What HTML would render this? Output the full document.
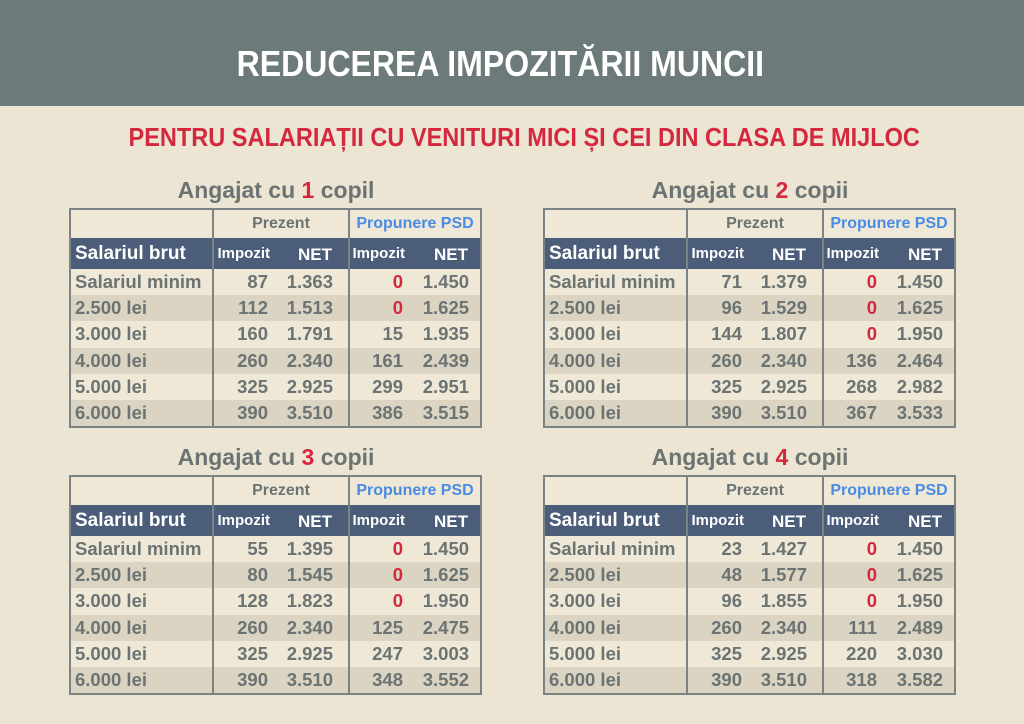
<!DOCTYPE html>
<html><head><meta charset="utf-8"><style>
body{margin:0;width:1024px;height:724px;background:#ede5d4;font-family:"Liberation Sans",sans-serif;position:relative;overflow:hidden}
.band{position:absolute;left:0;top:0;width:1024px;height:106px;background:#6c7a7a}
.title{position:absolute;left:-12px;width:1024px;top:44px;text-align:center;color:#fff;font-weight:bold;font-size:36px;line-height:40px;}
.title span{display:inline-block;transform:scaleX(0.89)}
.sub{position:absolute;left:12px;width:1024px;top:121px;text-align:center;color:#d3283e;font-weight:bold;font-size:26px;line-height:32px}
.sub span{display:inline-block;transform:scaleX(0.905)}
.h{position:absolute;width:412px;text-align:center;color:#6b7373;font-weight:bold;font-size:23px;line-height:28px}
.h b{color:#d3283e}
table{position:absolute;border-collapse:collapse;width:411px;table-layout:fixed;color:#6b7373;font-weight:bold;font-size:18.5px;border:2px solid #7b8484}
td{padding:0;white-space:nowrap;overflow:hidden}
tr.r0 td{height:28px;background:#efe8d7;text-align:center;font-size:16px}
tr.r0 td.b{color:#4a8be3}
tr.d td{height:28px;background:#4b5d79;color:#fff}
tr.d td.s{font-size:19px;padding-left:4px}
tr.d td.i{font-size:15px;text-align:right;padding-right:5px}
tr.d td.n{font-size:17px;text-align:right;padding-right:16px;padding-top:3px}
tr.x td{height:26.2px;background:#efe8d7}
tr.x:nth-child(even) td{background:#dcd4c2}
td.s{padding-left:4px}
td.v{text-align:right;padding-right:7px}
td.w{text-align:right;padding-right:15px}
td.p{text-align:right;padding-right:7px}
td.q{text-align:right;padding-right:11px}
.bl{border-left:2px solid #7b8484}
.z{color:#d3283e}
</style></head><body>
<div class="band"></div>
<div class="title"><span>REDUCEREA IMPOZITĂRII MUNCII</span></div>
<div class="sub"><span>PENTRU SALARIAȚII CU VENITURI MICI ȘI CEI DIN CLASA DE MIJLOC</span></div>

<div class="h" style="left:70px;top:176px">Angajat cu <b>1</b> copil</div>
<div class="h" style="left:544px;top:176px">Angajat cu <b>2</b> copii</div>
<div class="h" style="left:70px;top:443px">Angajat cu <b>3</b> copii</div>
<div class="h" style="left:544px;top:443px">Angajat cu <b>4</b> copii</div>

<table style="left:69px;top:208px">
<colgroup><col style="width:143px"><col style="width:62px"><col style="width:74px"><col style="width:61px"><col style="width:71px"></colgroup>
<tr class="r0"><td></td><td colspan="2" class="bl">Prezent</td><td colspan="2" class="bl b">Propunere PSD</td></tr>
<tr class="d"><td class="s">Salariul brut</td><td class="i bl">Impozit</td><td class="n">NET</td><td class="i bl">Impozit</td><td class="n" style="padding-right:12px">NET</td></tr>
<tr class="x"><td class="s">Salariul minim</td><td class="v bl">87</td><td class="w">1.363</td><td class="p bl z">0</td><td class="q">1.450</td></tr>
<tr class="x"><td class="s">2.500 lei</td><td class="v bl">112</td><td class="w">1.513</td><td class="p bl z">0</td><td class="q">1.625</td></tr>
<tr class="x"><td class="s">3.000 lei</td><td class="v bl">160</td><td class="w">1.791</td><td class="p bl">15</td><td class="q">1.935</td></tr>
<tr class="x"><td class="s">4.000 lei</td><td class="v bl">260</td><td class="w">2.340</td><td class="p bl">161</td><td class="q">2.439</td></tr>
<tr class="x"><td class="s">5.000 lei</td><td class="v bl">325</td><td class="w">2.925</td><td class="p bl">299</td><td class="q">2.951</td></tr>
<tr class="x"><td class="s">6.000 lei</td><td class="v bl">390</td><td class="w">3.510</td><td class="p bl">386</td><td class="q">3.515</td></tr>
</table>

<table style="left:543px;top:208px">
<colgroup><col style="width:143px"><col style="width:62px"><col style="width:74px"><col style="width:61px"><col style="width:71px"></colgroup>
<tr class="r0"><td></td><td colspan="2" class="bl">Prezent</td><td colspan="2" class="bl b">Propunere PSD</td></tr>
<tr class="d"><td class="s">Salariul brut</td><td class="i bl">Impozit</td><td class="n">NET</td><td class="i bl">Impozit</td><td class="n" style="padding-right:12px">NET</td></tr>
<tr class="x"><td class="s">Salariul minim</td><td class="v bl">71</td><td class="w">1.379</td><td class="p bl z">0</td><td class="q">1.450</td></tr>
<tr class="x"><td class="s">2.500 lei</td><td class="v bl">96</td><td class="w">1.529</td><td class="p bl z">0</td><td class="q">1.625</td></tr>
<tr class="x"><td class="s">3.000 lei</td><td class="v bl">144</td><td class="w">1.807</td><td class="p bl z">0</td><td class="q">1.950</td></tr>
<tr class="x"><td class="s">4.000 lei</td><td class="v bl">260</td><td class="w">2.340</td><td class="p bl">136</td><td class="q">2.464</td></tr>
<tr class="x"><td class="s">5.000 lei</td><td class="v bl">325</td><td class="w">2.925</td><td class="p bl">268</td><td class="q">2.982</td></tr>
<tr class="x"><td class="s">6.000 lei</td><td class="v bl">390</td><td class="w">3.510</td><td class="p bl">367</td><td class="q">3.533</td></tr>
</table>

<table style="left:69px;top:475px">
<colgroup><col style="width:143px"><col style="width:62px"><col style="width:74px"><col style="width:61px"><col style="width:71px"></colgroup>
<tr class="r0"><td></td><td colspan="2" class="bl">Prezent</td><td colspan="2" class="bl b">Propunere PSD</td></tr>
<tr class="d"><td class="s">Salariul brut</td><td class="i bl">Impozit</td><td class="n">NET</td><td class="i bl">Impozit</td><td class="n" style="padding-right:12px">NET</td></tr>
<tr class="x"><td class="s">Salariul minim</td><td class="v bl">55</td><td class="w">1.395</td><td class="p bl z">0</td><td class="q">1.450</td></tr>
<tr class="x"><td class="s">2.500 lei</td><td class="v bl">80</td><td class="w">1.545</td><td class="p bl z">0</td><td class="q">1.625</td></tr>
<tr class="x"><td class="s">3.000 lei</td><td class="v bl">128</td><td class="w">1.823</td><td class="p bl z">0</td><td class="q">1.950</td></tr>
<tr class="x"><td class="s">4.000 lei</td><td class="v bl">260</td><td class="w">2.340</td><td class="p bl">125</td><td class="q">2.475</td></tr>
<tr class="x"><td class="s">5.000 lei</td><td class="v bl">325</td><td class="w">2.925</td><td class="p bl">247</td><td class="q">3.003</td></tr>
<tr class="x"><td class="s">6.000 lei</td><td class="v bl">390</td><td class="w">3.510</td><td class="p bl">348</td><td class="q">3.552</td></tr>
</table>

<table style="left:543px;top:475px">
<colgroup><col style="width:143px"><col style="width:62px"><col style="width:74px"><col style="width:61px"><col style="width:71px"></colgroup>
<tr class="r0"><td></td><td colspan="2" class="bl">Prezent</td><td colspan="2" class="bl b">Propunere PSD</td></tr>
<tr class="d"><td class="s">Salariul brut</td><td class="i bl">Impozit</td><td class="n">NET</td><td class="i bl">Impozit</td><td class="n" style="padding-right:12px">NET</td></tr>
<tr class="x"><td class="s">Salariul minim</td><td class="v bl">23</td><td class="w">1.427</td><td class="p bl z">0</td><td class="q">1.450</td></tr>
<tr class="x"><td class="s">2.500 lei</td><td class="v bl">48</td><td class="w">1.577</td><td class="p bl z">0</td><td class="q">1.625</td></tr>
<tr class="x"><td class="s">3.000 lei</td><td class="v bl">96</td><td class="w">1.855</td><td class="p bl z">0</td><td class="q">1.950</td></tr>
<tr class="x"><td class="s">4.000 lei</td><td class="v bl">260</td><td class="w">2.340</td><td class="p bl">111</td><td class="q">2.489</td></tr>
<tr class="x"><td class="s">5.000 lei</td><td class="v bl">325</td><td class="w">2.925</td><td class="p bl">220</td><td class="q">3.030</td></tr>
<tr class="x"><td class="s">6.000 lei</td><td class="v bl">390</td><td class="w">3.510</td><td class="p bl">318</td><td class="q">3.582</td></tr>
</table>
</body></html>
